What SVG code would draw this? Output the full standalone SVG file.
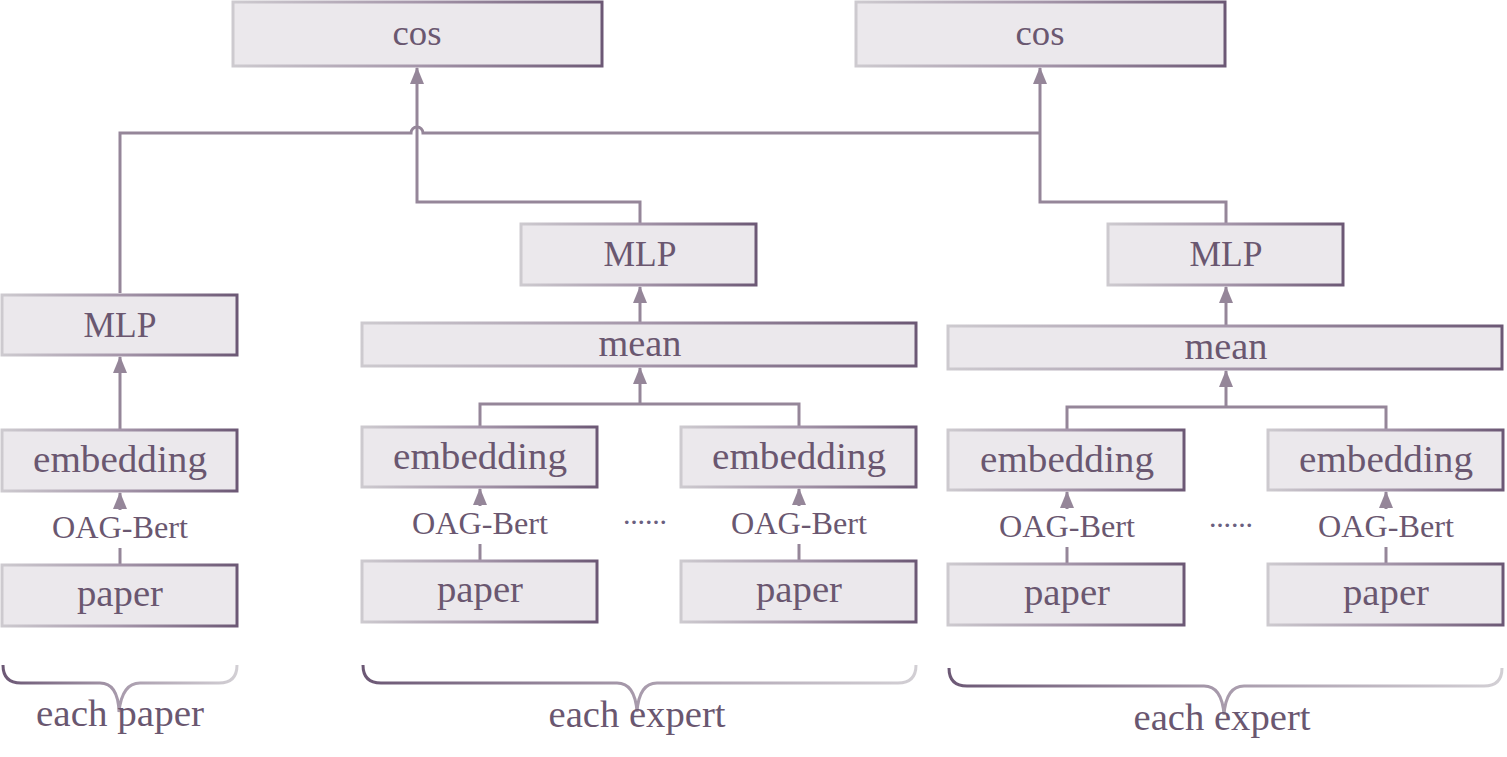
<svg xmlns="http://www.w3.org/2000/svg" width="1507" height="757" viewBox="0 0 1507 757">
<defs>
  <linearGradient id="gBox" x1="0" y1="0" x2="1" y2="0">
    <stop offset="0" stop-color="#cdcacf"/>
    <stop offset="0.5" stop-color="#a596aa"/>
    <stop offset="1" stop-color="#6c5875"/>
  </linearGradient>
  <linearGradient id="gBrace" x1="0" y1="0" x2="1" y2="0">
    <stop offset="0" stop-color="#6c5875"/>
    <stop offset="0.5" stop-color="#a89bac"/>
    <stop offset="1" stop-color="#d2cfd4"/>
  </linearGradient>
  <marker id="arr" viewBox="0 0 17 14" refX="16" refY="7" markerWidth="17" markerHeight="14" markerUnits="userSpaceOnUse" orient="auto">
    <path d="M0,0 L17,7 L0,14 Z" fill="#958699"/>
  </marker>
</defs>
<style>
  .box { fill: #ebe8ec; stroke: url(#gBox); stroke-width: 3; }
  .lbl { font-family: "Liberation Serif", "DejaVu Serif", serif; font-size: 38px; fill: #6a5770; text-anchor: middle; }
  .cap { font-family: "Liberation Serif", "DejaVu Serif", serif; font-size: 36px; fill: #6a5770; text-anchor: middle; }
  .sm { font-family: "Liberation Serif", "DejaVu Serif", serif; font-size: 31px; fill: #6a5770; text-anchor: middle; }
  .dots { font-family: "Liberation Serif", serif; font-size: 30px; fill: #6a6080; text-anchor: middle; }
  .con { fill: none; stroke: #958699; stroke-width: 3; }
  .brace { fill: none; stroke: url(#gBrace); stroke-width: 3; }
</style>
<rect width="1507" height="757" fill="#ffffff"/>

<g id="connectors">
  <path class="con" d="M120,293 V133 H411 A6,6 0 0 1 423,133 H1040"/>
  <path class="con" d="M640,224 V202 H417 V68" marker-end="url(#arr)"/>
  <path class="con" d="M1226,224 V202 H1040 V68" marker-end="url(#arr)"/>
  <path class="con" d="M120,430 V357" marker-end="url(#arr)"/>
  <path class="con" d="M120,565 V548"/>
  <path class="con" d="M120,510 V493" marker-end="url(#arr)"/>
  <path class="con" d="M640,323 V287" marker-end="url(#arr)"/>
  <path class="con" d="M480,427 V404 H799 V427"/>
  <path class="con" d="M640,404 V368" marker-end="url(#arr)"/>
  <path class="con" d="M480,561 V544"/>
  <path class="con" d="M480,506 V489" marker-end="url(#arr)"/>
  <path class="con" d="M799,561 V544"/>
  <path class="con" d="M799,506 V489" marker-end="url(#arr)"/>
  <path class="con" d="M1226,326 V287" marker-end="url(#arr)"/>
  <path class="con" d="M1067,430 V407 H1386 V430"/>
  <path class="con" d="M1226,407 V371" marker-end="url(#arr)"/>
  <path class="con" d="M1067,564 V547"/>
  <path class="con" d="M1067,509 V492" marker-end="url(#arr)"/>
  <path class="con" d="M1386,564 V547"/>
  <path class="con" d="M1386,509 V492" marker-end="url(#arr)"/>
</g>

<g id="cos1"><rect class="box" x="233" y="2" width="369" height="64"/><text class="cap" x="417" y="45" textLength="49" lengthAdjust="spacingAndGlyphs">cos</text></g>
<g id="cos2"><rect class="box" x="856" y="2" width="369" height="64"/><text class="cap" x="1040" y="45" textLength="49" lengthAdjust="spacingAndGlyphs">cos</text></g>

<g id="mlp1"><rect class="box" x="2" y="295" width="235" height="60"/><text class="cap" x="120" y="337" textLength="73" lengthAdjust="spacingAndGlyphs">MLP</text></g>
<g id="emb1"><rect class="box" x="2" y="430" width="235" height="61"/><text class="lbl" x="120" y="472" textLength="174" lengthAdjust="spacingAndGlyphs">embedding</text></g>
<g id="bert1"><text class="sm" x="120" y="538" textLength="136" lengthAdjust="spacingAndGlyphs">OAG-Bert</text></g>
<g id="paper1"><rect class="box" x="2" y="565" width="235" height="61"/><text class="lbl" x="120" y="606" textLength="86" lengthAdjust="spacingAndGlyphs">paper</text></g>

<g id="mlp2"><rect class="box" x="521" y="224" width="235" height="61"/><text class="cap" x="640" y="266" textLength="73" lengthAdjust="spacingAndGlyphs">MLP</text></g>
<g id="mean1"><rect class="box" x="362" y="323" width="554" height="43"/><text class="lbl" x="640" y="356" textLength="83" lengthAdjust="spacingAndGlyphs">mean</text></g>
<g id="emb2"><rect class="box" x="362" y="427" width="235" height="60"/><text class="lbl" x="480" y="469" textLength="174" lengthAdjust="spacingAndGlyphs">embedding</text></g>
<g id="emb3"><rect class="box" x="681" y="427" width="235" height="60"/><text class="lbl" x="799" y="469" textLength="174" lengthAdjust="spacingAndGlyphs">embedding</text></g>
<g id="bert2"><text class="sm" x="480" y="534" textLength="136" lengthAdjust="spacingAndGlyphs">OAG-Bert</text></g>
<g id="bert3"><text class="sm" x="799" y="534" textLength="136" lengthAdjust="spacingAndGlyphs">OAG-Bert</text></g>
<g id="dots1"><text class="dots" x="645" y="524" textLength="44">......</text></g>
<g id="paper2"><rect class="box" x="362" y="561" width="235" height="61"/><text class="lbl" x="480" y="602" textLength="86" lengthAdjust="spacingAndGlyphs">paper</text></g>
<g id="paper3"><rect class="box" x="681" y="561" width="235" height="61"/><text class="lbl" x="799" y="602" textLength="86" lengthAdjust="spacingAndGlyphs">paper</text></g>

<g id="mlp3"><rect class="box" x="1108" y="224" width="235" height="61"/><text class="cap" x="1226" y="266" textLength="73" lengthAdjust="spacingAndGlyphs">MLP</text></g>
<g id="mean2"><rect class="box" x="948" y="326" width="554" height="43"/><text class="lbl" x="1226" y="359" textLength="83" lengthAdjust="spacingAndGlyphs">mean</text></g>
<g id="emb4"><rect class="box" x="948" y="430" width="236" height="60"/><text class="lbl" x="1067" y="472" textLength="174" lengthAdjust="spacingAndGlyphs">embedding</text></g>
<g id="emb5"><rect class="box" x="1268" y="430" width="235" height="60"/><text class="lbl" x="1386" y="472" textLength="174" lengthAdjust="spacingAndGlyphs">embedding</text></g>
<g id="bert4"><text class="sm" x="1067" y="537" textLength="136" lengthAdjust="spacingAndGlyphs">OAG-Bert</text></g>
<g id="bert5"><text class="sm" x="1386" y="537" textLength="136" lengthAdjust="spacingAndGlyphs">OAG-Bert</text></g>
<g id="dots2"><text class="dots" x="1231" y="527" textLength="44">......</text></g>
<g id="paper4"><rect class="box" x="948" y="564" width="236" height="61"/><text class="lbl" x="1067" y="605" textLength="86" lengthAdjust="spacingAndGlyphs">paper</text></g>
<g id="paper5"><rect class="box" x="1268" y="564" width="235" height="61"/><text class="lbl" x="1386" y="605" textLength="86" lengthAdjust="spacingAndGlyphs">paper</text></g>

<g id="brace1">
  <path class="brace" d="M3,665 Q3,683 21,683 L100,683 Q118,683 119,712 Q122,683 140,683 L219,683 Q237,683 237,665"/>
  <text class="lbl" x="120" y="726" textLength="168" lengthAdjust="spacingAndGlyphs">each paper</text>
</g>
<g id="brace2">
  <path class="brace" d="M363,665 Q363,683 381,683 L617,683 Q635,683 637,712 Q639,683 657,683 L898,683 Q916,683 916,665"/>
  <text class="lbl" x="637" y="727" textLength="177" lengthAdjust="spacingAndGlyphs">each expert</text>
</g>
<g id="brace3">
  <path class="brace" d="M949,668 Q949,686 967,686 L1204,686 Q1222,686 1224,715 Q1226,686 1244,686 L1484,686 Q1502,686 1502,668"/>
  <text class="lbl" x="1222" y="730" textLength="177" lengthAdjust="spacingAndGlyphs">each expert</text>
</g>
</svg>
